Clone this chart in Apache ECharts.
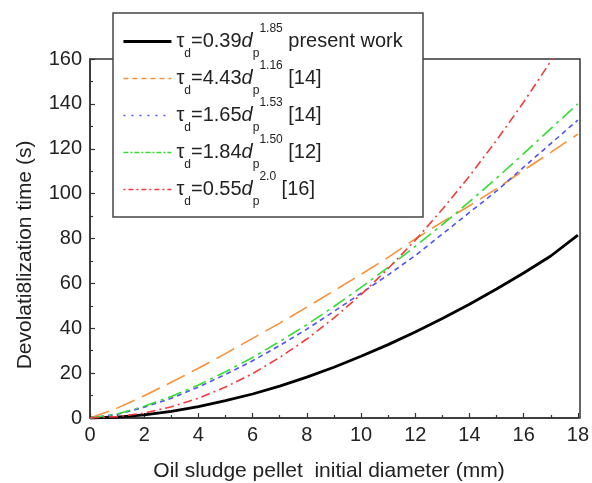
<!DOCTYPE html>
<html>
<head>
<meta charset="utf-8">
<script src="https://cdn.jsdelivr.net/npm/echarts@6/dist/echarts.min.js"></script>
<style>
  html, body { margin: 0; padding: 0; background: #fff; }
  #chart { width: 592px; height: 483px; }
</style>
</head>
<body>
<div id="chart"></div>
<script>
// pellet initial diameter (mm)
const diameter = [0, 1, 2, 3, 4, 5, 6, 7, 8, 9, 10, 11, 12, 13, 14, 15, 16, 17, 18];

// devolatilization time (s)
const presentWork = [0, 0.4, 1.4, 3.0, 5.1, 7.7, 10.7, 14.2, 18.2, 22.6, 27.5, 32.7, 38.3, 44.3, 50.7, 57.5, 64.6, 72.2, 81.5];
const ref14a = [0, 4.4, 9.9, 15.9, 22.2, 28.7, 35.5, 42.3, 49.4, 56.7, 64.0, 71.6, 79.8, 87.4, 94.6, 102.2, 110.4, 118.4, 126.5];
const ref14b = [0, 1.6, 4.8, 8.8, 13.8, 19.4, 25.5, 32.3, 39.6, 47.5, 55.6, 63.8, 72.4, 82.0, 91.6, 101.2, 111.8, 122.3, 132.8];
const ref12 = [0, 1.8, 5.2, 9.6, 14.7, 20.6, 27.0, 34.1, 41.6, 49.7, 58.2, 67.1, 76.5, 86.2, 96.4, 106.9, 117.8, 129.0, 140.0];
const ref16 = [0, 0.6, 2.2, 5.0, 8.8, 13.8, 19.8, 27.0, 35.2, 44.6, 55.0, 66.6, 79.2, 93.0, 107.8, 123.8, 140.8, 159.0, 178.2];

const xTicks = [0, 2, 4, 6, 8, 10, 12, 14, 16, 18];
const yTicks = [0, 20, 40, 60, 80, 100, 120, 140, 160];

const FONT = '"Liberation Sans", Arial, sans-serif';
const TXT = '#222';

function pairs(ys) {
  return diameter.map((d, i) => [d, ys[i]]);
}

// legend labels as rich text: tau_d = a d_p^b [ref]
const legendText = {
  present: '{t|τ}{sub|d}{t|=0.39}{it|d}{sub|p}{sup|1.85}{t| present work}',
  r14a: '{t|τ}{sub|d}{t|=4.43}{it|d}{sub|p}{sup|1.16}{t| [14]}',
  r14b: '{t|τ}{sub|d}{t|=1.65}{it|d}{sub|p}{sup|1.53}{t| [14]}',
  r12: '{t|τ}{sub|d}{t|=1.84}{it|d}{sub|p}{sup|1.50}{t| [12]}',
  r16: '{t|τ}{sub|d}{t|=0.55}{it|d}{sub|p}{sup|2.0}{t| [16]}'
};

const colors = {
  present: '#000000',
  r14a: '#f7913a',
  r14b: '#5252f5',
  r12: '#33dd33',
  r16: '#f23c3c'
};

function line(name, ys, width, dash) {
  return {
    name: name,
    type: 'line',
    data: pairs(ys),
    symbol: 'none',
    smooth: false,
    clip: true,
    lineStyle: { color: colors[name], width: width, type: dash },
    itemStyle: { color: colors[name] }
  };
}

// legend entries only show the line, no marker
const noMarker = { opacity: 0, color: 'transparent', borderWidth: 0 };

const chart = echarts.init(document.getElementById('chart'));
chart.setOption({
  animation: false,
  backgroundColor: '#fff',
  grid: { left: 90, right: 12, top: 59, bottom: 65, show: false },
  xAxis: {
    type: 'value',
    min: 0,
    max: 18,
    interval: 2,
    axisLine: { show: true, onZero: false, lineStyle: { color: '#333', width: 1.5 } },
    axisTick: { show: true, inside: true, length: 5, lineStyle: { color: '#333', width: 1.2 } },
    minorTick: { show: true, splitNumber: 2, length: 3, lineStyle: { color: '#333', width: 1.2 } },
    splitLine: { show: false },
    axisLabel: {
      margin: 7,
      fontFamily: FONT,
      fontSize: 20,
      color: TXT,
      formatter: v => (xTicks.indexOf(v) >= 0 ? String(v) : '')
    }
  },
  yAxis: {
    type: 'value',
    min: 0,
    max: 160,
    interval: 20,
    axisLine: { show: true, onZero: false, lineStyle: { color: '#333', width: 1.5 } },
    axisTick: { show: true, inside: true, length: 5, lineStyle: { color: '#333', width: 1.2 } },
    minorTick: { show: true, splitNumber: 2, length: 3, lineStyle: { color: '#333', width: 1.2 } },
    splitLine: { show: false },
    axisLabel: {
      margin: 8,
      fontFamily: FONT,
      fontSize: 20,
      color: TXT,
      formatter: v => (yTicks.indexOf(v) >= 0 ? String(v) : '')
    }
  },
  legend: {
    orient: 'vertical',
    left: 113,
    top: 13,
    padding: [10, 10, 8, 9],
    itemGap: 0,
    itemWidth: 48,
    itemHeight: 14,
    z: 10,
    selectedMode: false,
    itemStyle: noMarker,
    data: [
      { name: 'present', itemStyle: noMarker, lineStyle: { width: 2.8, type: 'solid' } },
      { name: 'r14a', itemStyle: noMarker, lineStyle: { width: 1.5, type: [5, 4] } },
      { name: 'r14b', itemStyle: noMarker, lineStyle: { width: 1.5, type: [2, 6] } },
      { name: 'r12', itemStyle: noMarker, lineStyle: { width: 1.5, type: [5, 2, 2, 2] } },
      { name: 'r16', itemStyle: noMarker, lineStyle: { width: 1.5, type: [2, 3, 5, 3] } }
    ],
    formatter: name => legendText[name],
    textStyle: {
      fontFamily: FONT,
      color: TXT,
      rich: {
        t: { fontFamily: FONT, fontSize: 20, lineHeight: 37, color: TXT },
        it: { fontFamily: FONT, fontSize: 20, lineHeight: 37, fontStyle: 'italic', color: TXT },
        sub: { fontFamily: FONT, fontSize: 12, lineHeight: 13, verticalAlign: 'bottom', color: TXT },
        sup: { fontFamily: FONT, fontSize: 12, lineHeight: 20, verticalAlign: 'top', color: TXT }
      }
    }
  },
  graphic: [
    {
      type: 'rect',
      z: 0,
      silent: true,
      shape: { x: 90, y: 59, width: 490, height: 359 },
      style: { fill: 'none', stroke: '#333', lineWidth: 1.5 }
    },
    {
      type: 'rect',
      z: 9,
      silent: true,
      shape: { x: 113, y: 13, width: 310, height: 204 },
      style: { fill: '#fff', stroke: '#444', lineWidth: 1.5 }
    },
    {
      type: 'text',
      x: 329,
      y: 471,
      style: {
        text: 'Oil sludge pellet  initial diameter (mm)',
        font: '21px ' + FONT,
        fill: TXT,
        align: 'center',
        verticalAlign: 'middle',
        textAlign: 'center',
        textVerticalAlign: 'middle'
      }
    },
    {
      type: 'text',
      x: 25,
      y: 255,
      rotation: Math.PI / 2,
      style: {
        text: 'Devolati8lization time (s)',
        font: '21px ' + FONT,
        fill: TXT,
        align: 'center',
        verticalAlign: 'middle',
        textAlign: 'center',
        textVerticalAlign: 'middle'
      }
    }
  ],
  series: [
    line('present', presentWork, 2.8, 'solid'),
    line('r14a', ref14a, 1.6, [20, 8]),
    line('r14b', ref14b, 1.6, [5, 4]),
    line('r12', ref12, 1.6, [14, 5, 3, 5]),
    line('r16', ref16, 1.6, [9, 4, 2, 4])
  ]
});
</script>
</body>
</html>
